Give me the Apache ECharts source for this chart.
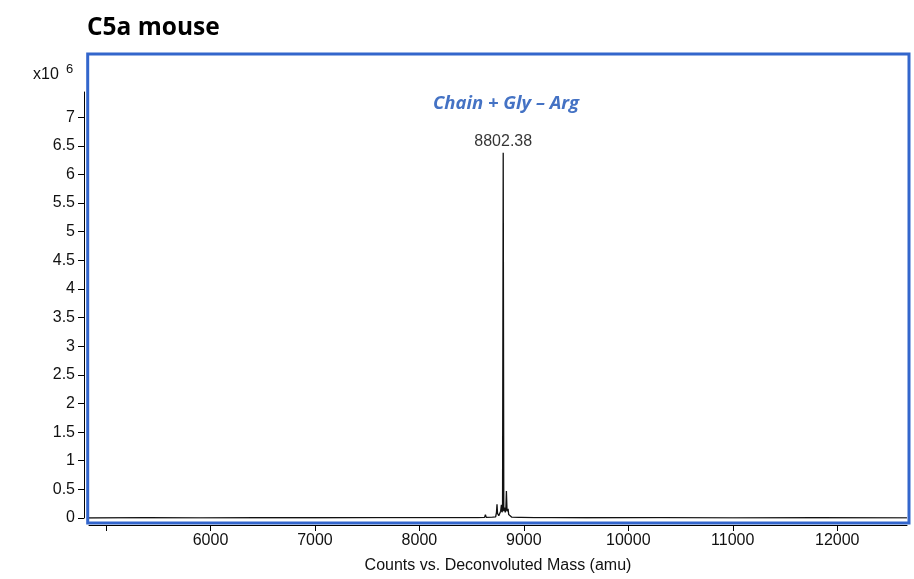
<!DOCTYPE html>
<html>
<head>
<meta charset="utf-8">
<script src="https://cdn.jsdelivr.net/npm/echarts@6/dist/echarts.min.js"></script>
<style>html,body{margin:0;padding:0;background:#fff}#c{width:914px;height:579px}</style>
</head>
<body>
<div id="c"></div>
<script>
// Deconvoluted mass (amu) and counts (x10^6)
const masses = [4837, 5400, 5900, 6450, 7000, 7600, 8200, 8560, 8624, 8632, 8640, 8700, 8730, 8738, 8743, 8748, 8760, 8772, 8778, 8785, 8791, 8796, 8802.38, 8808, 8815, 8822, 8828, 8833, 8839, 8844, 8849, 8855, 8860, 8865, 8871, 8885, 8950, 8961, 8972, 9100, 9160, 9168, 9176, 9230, 9248, 9262, 9600, 10300, 11000, 11800, 12668];
const counts = [0.00, 0.005, 0.003, 0.006, 0.004, 0.005, 0.006, 0.008, 0.01, 0.06, 0.01, 0.015, 0.02, 0.10, 0.24, 0.08, 0.04, 0.06, 0.12, 0.23, 0.10, 0.14, 6.38, 0.12, 0.18, 0.10, 0.16, 0.47, 0.12, 0.09, 0.16, 0.06, 0.05, 0.08, 0.03, 0.015, 0.01, 0.04, 0.01, 0.008, 0.006, 0.03, 0.006, 0.005, 0.02, 0.005, 0.004, 0.005, 0.003, 0.004, 0.003];
const peakLabel = '8802.38';
const annotation = 'Chain + Gly \u2013 Arg';
const title = 'C5a mouse';
const xTickValues = [5000, 6000, 7000, 8000, 9000, 10000, 11000, 12000];
const xLabelValues = [6000, 7000, 8000, 9000, 10000, 11000, 12000];
const yTickValues = [0, 0.5, 1, 1.5, 2, 2.5, 3, 3.5, 4, 4.5, 5, 5.5, 6, 6.5, 7];
const xName = 'Counts vs. Deconvoluted Mass (amu)';

const data = masses.map((m, i) => [m, counts[i]]);
const labelData = [[8802.38, 6.38]];

const chart = echarts.init(document.getElementById('c'), null, {renderer: 'canvas'});
const font = 'Liberation Sans, Arial, sans-serif';
chart.setOption({
  animation: false,
  backgroundColor: '#fff',
  grid: {left: 89, right: 7, top: 92, bottom: 59, containLabel: false},
  xAxis: {
    type: 'value', min: 4837, max: 12668,
    offset: 7,
    name: xName, nameLocation: 'middle', nameGap: 33,
    nameTextStyle: {fontFamily: font, fontSize: 16, color: '#111'},
    axisLine: {show: true, onZero: false, lineStyle: {color: '#000', width: 1}},
    axisTick: {show: true, inside: false, length: 6, customValues: xTickValues, lineStyle: {color: '#000'}},
    axisLabel: {customValues: xLabelValues, formatter: v => String(v), fontFamily: font, fontSize: 16, color: '#111', margin: 8},
    splitLine: {show: false}
  },
  yAxis: {
    type: 'value', min: 0, max: 7.44,
    offset: 5,
    axisLine: {show: true, onZero: false, lineStyle: {color: '#000', width: 1}},
    axisTick: {show: true, inside: false, length: 6, customValues: yTickValues, lineStyle: {color: '#000'}},
    axisLabel: {customValues: yTickValues, formatter: v => String(v), fontFamily: font, fontSize: 16, color: '#111', margin: 9},
    splitLine: {show: false}
  },
  series: [
    {
      type: 'line', data: data, symbol: 'none', silent: true,
      lineStyle: {color: '#111', width: 1.3}, z: 2
    },
    {
      type: 'scatter', data: labelData, symbolSize: 0, silent: true,
      label: {show: true, position: 'top', distance: 3, formatter: peakLabel,
        fontFamily: font, fontSize: 16, color: '#000'}
    }
  ],
  graphic: [
    {type: 'rect', shape: {x: 87.7, y: 54, width: 821.3, height: 469}, style: {fill: 'none', stroke: '#3366CC', lineWidth: 3}, z: 100},
    {type: 'text', left: 87, top: 16, style: {text: title, fontFamily: 'Open Sans, sans-serif', fontWeight: 'bold', fontSize: 24.5, fill: '#000'}},
    {type: 'text', left: 33, top: 67, style: {text: 'x10', fontFamily: font, fontSize: 16, fill: '#111'}},
    {type: 'text', left: 66, top: 63, style: {text: '6', fontFamily: font, fontSize: 13, fill: '#111'}},
    {type: 'text', x: 506, y: 104, style: {text: annotation, fontFamily: 'Open Sans, sans-serif', fontWeight: 'bold', fontStyle: 'italic', fontSize: 18.5, fill: '#4472C4', align: 'center', verticalAlign: 'middle'}}
  ]
});
</script>
</body>
</html>
